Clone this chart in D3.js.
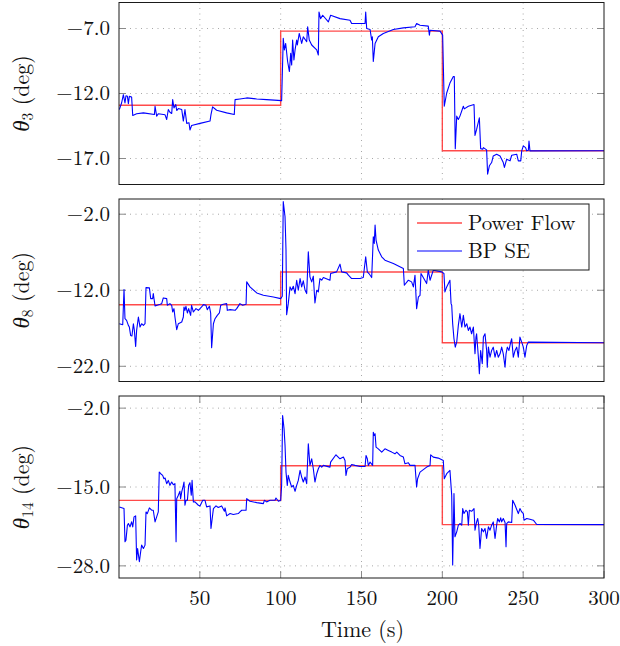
<!DOCTYPE html>
<html><head><meta charset="utf-8">
<script src="https://cdn.jsdelivr.net/npm/d3@7"></script>
<style>body{margin:0;background:#fff}svg{display:block}</style>
</head><body>
<svg id="c" width="620" height="646"></svg>
<script>
// ---------------- data ----------------
const xTicks = [50, 100, 150, 200, 250, 300];
const pfT = [0, 100, 200, 300];
const pf3 = [-12.9, -7.2, -16.4, -16.4];
const pf8 = [-13.9, -9.6, -18.9, -18.9];
const pf14 = [-17.2, -11.5, -21.2, -21.2];

const y3Ticks = [-7, -12, -17];
const y8Ticks = [-2, -12, -22];
const y14Ticks = [-2, -15, -28];

const t3 = [0.2,1.6,2.7,3.7,4.3,5.2,5.8,6.4,7.8,8.5,10.9,15.1,21.9,22.3,23.3,24.3,28.5,29.5,30.5,31.5,32.6,33.2,34.0,35.1,35.7,36.7,38.8,39.8,40.8,41.9,43.3,43.9,44.9,50.1,56.3,56.9,57.9,60.4,66.6,71.3,71.8,74.8,79.0,85.2,91.3,100.6,101.6,102.3,103.1,104.3,105.4,106.2,106.8,107.4,108.2,108.9,109.9,110.3,111.5,113.0,114.0,116.1,116.7,117.7,119.2,122.3,123.3,123.7,124.7,126.0,129.5,130.9,136.7,142.9,143.9,152.2,152.6,153.2,155.3,156.3,156.7,157.3,158.4,160.4,163.5,169.7,175.9,183.1,184.1,186.2,191.3,192.0,192.4,198.6,200.2,201.2,202.7,204.7,206.8,207.4,208.0,208.9,209.9,210.9,213.0,213.6,216.1,219.6,220.2,221.2,222.9,223.7,225.0,225.4,227.4,228.0,229.1,230.5,231.5,233.6,235.7,237.7,238.4,239.8,241.9,242.9,246.0,247.0,248.5,249.1,250.1,251.5,252.2,253.2,253.6,254.2,300];
const v3 = [-13.23,-12.73,-12.09,-12.73,-12.17,-12.22,-12.78,-12.22,-12.27,-13.69,-13.56,-13.49,-13.62,-12.98,-13.74,-13.56,-13.64,-14.0,-13.23,-13.44,-13.54,-12.47,-13.11,-12.85,-13.31,-13.16,-13.23,-14.12,-13.23,-14.30,-14.25,-14.81,-14.46,-14.30,-14.12,-13.62,-13.03,-13.29,-13.49,-13.62,-12.47,-12.42,-12.34,-12.42,-12.47,-12.55,-7.76,-8.65,-8.15,-9.54,-10.31,-8.91,-9.80,-7.89,-9.42,-8.65,-7.89,-8.27,-7.38,-8.15,-7.64,-8.02,-6.87,-7.89,-8.27,-8.65,-9.04,-5.73,-6.24,-5.98,-6.49,-5.98,-6.24,-6.36,-6.62,-6.62,-5.73,-7.0,-7.08,-7.89,-7.64,-9.54,-8.15,-7.64,-7.38,-7.08,-6.95,-6.87,-6.62,-6.75,-6.82,-7.51,-7.13,-7.20,-7.51,-12.98,-11.96,-11.20,-10.69,-10.69,-16.24,-13.74,-14.0,-13.74,-12.98,-13.18,-12.98,-12.85,-15.22,-14.76,-13.87,-16.24,-16.29,-16.16,-16.34,-18.2,-17.56,-17.31,-16.80,-16.67,-16.80,-17.31,-17.69,-17.05,-17.18,-16.75,-16.67,-17.18,-17.18,-16.41,-16.03,-16.16,-16.41,-16.36,-15.65,-16.41,-16.4];

const t8 = [0.2,2.3,3.1,3.7,4.7,5.8,6.4,7.2,8.0,8.9,9.5,10.3,10.9,12.0,13.0,14.0,15.1,16.1,16.7,18.8,19.6,20.8,21.2,22.3,25.4,26.4,27.4,29.5,29.9,31.5,32.6,33.2,34.0,34.6,35.7,36.7,38.8,39.8,40.2,40.8,41.4,42.3,43.1,44.3,44.9,46.0,47.6,49.1,51.1,52.2,53.8,54.6,55.9,56.7,57.3,58.4,59.4,60.8,62.1,62.9,64.5,66.6,67.0,68.7,71.8,72.8,74.8,76.5,78.6,79.0,81.0,85.2,89.3,95.5,100.0,101.0,101.6,102.7,103.3,103.7,104.7,105.8,106.8,107.8,108.9,109.9,110.9,112.0,113.0,114.0,115.1,116.1,117.1,118.1,119.2,120.2,121.2,122.3,123.3,124.3,125.4,126.4,130.5,130.9,134.6,136.7,137.7,140.8,141.9,143.9,149.1,151.1,152.6,153.6,154.6,156.3,157.3,157.9,158.4,159.0,160.4,162.5,164.5,169.7,175.9,176.5,179.0,181.0,182.1,183.1,184.1,185.2,186.2,186.8,190.3,191.3,192.4,194.4,199.6,201.0,201.6,202.7,204.7,205.4,205.8,206.4,207.2,208.0,208.9,209.9,210.9,212.0,213.0,214.0,215.1,216.1,217.1,218.1,219.2,220.2,220.8,221.2,222.3,222.9,223.7,224.7,225.4,226.4,227.4,227.8,228.5,229.5,230.5,231.5,232.6,233.6,234.6,235.7,236.7,237.7,238.8,239.4,240.2,241.2,242.3,242.9,243.9,245.0,246.0,247.0,248.0,249.1,250.1,251.1,252.2,253.2,300];
const v8 = [-16.40,-16.53,-11.91,-15.74,-15.96,-16.62,-16.84,-17.94,-18.02,-16.40,-17.28,-19.39,-17.28,-15.52,-16.84,-16.40,-16.62,-16.40,-11.65,-11.69,-13.10,-13.10,-12.44,-14.07,-13.85,-13.76,-13.01,-13.10,-13.98,-13.76,-13.98,-14.86,-14.42,-15.52,-17.19,-16.40,-16.18,-15.52,-14.20,-14.64,-14.11,-14.99,-14.42,-15.30,-13.98,-14.86,-14.42,-14.64,-14.20,-13.89,-13.98,-14.55,-14.11,-14.99,-19.56,-16.40,-15.74,-15.30,-14.99,-13.98,-13.85,-13.76,-14.64,-14.55,-14.64,-14.42,-13.76,-13.98,-13.85,-10.90,-11.56,-12.35,-12.66,-12.88,-13.10,-12.79,-0.35,-2.33,-6.72,-15.21,-13.76,-11.56,-12.0,-11.47,-12.44,-10.68,-12.0,-10.46,-11.56,-10.77,-12.0,-12.44,-6.94,-10.24,-10.90,-10.15,-13.67,-12.0,-12.22,-10.46,-10.68,-10.33,-10.68,-9.80,-9.58,-8.57,-9.58,-9.71,-10.02,-10.46,-10.46,-10.33,-7.60,-9.58,-9.80,-10.33,-4.96,-5.84,-3.42,-5.40,-6.72,-7.60,-8.04,-8.48,-9.14,-11.34,-10.68,-10.90,-11.56,-10.02,-14.42,-12.88,-12.66,-9.80,-11.12,-9.36,-10.68,-9.36,-9.58,-9.80,-12.22,-11.56,-10.68,-13.76,-13.98,-16.40,-18.38,-19.48,-18.82,-16.62,-15.08,-16.84,-15.30,-16.84,-16.40,-17.28,-16.84,-17.72,-16.84,-20.36,-18.16,-17.72,-20.80,-22.99,-19.92,-21.67,-18.16,-17.72,-19.92,-22.11,-19.48,-20.80,-19.92,-19.48,-20.80,-19.92,-20.80,-20.36,-19.48,-20.36,-22.11,-20.36,-19.48,-19.92,-18.82,-18.38,-20.80,-19.92,-19.48,-20.80,-18.16,-18.82,-19.48,-20.80,-19.26,-18.82,-18.9];

const t14 = [0.2,3.1,3.7,4.3,5.2,5.8,6.8,7.8,8.5,9.3,10.3,10.9,11.5,12.6,13.4,14.0,15.1,16.1,16.7,17.5,18.8,20.2,21.2,22.3,23.3,24.3,24.9,25.8,27.0,27.8,28.5,29.5,30.5,31.5,32.6,33.6,34.6,35.3,35.7,36.7,37.7,38.1,38.8,39.8,40.2,40.8,41.4,42.3,43.1,43.9,44.7,45.2,46.0,47.0,49.1,50.1,51.8,53.2,54.2,56.3,56.9,58.4,60.0,61.4,63.5,65.2,65.6,66.6,68.7,70.7,73.8,74.8,75.9,78.6,79.0,81.0,85.2,89.3,89.9,91.3,93.4,96.5,97.1,98.6,100.0,100.6,101.2,102.1,102.7,103.3,104.1,104.7,105.8,106.8,107.8,108.9,109.9,110.9,112.0,113.0,114.0,115.1,116.1,117.1,118.1,119.2,120.2,121.2,122.3,123.3,124.3,125.4,126.4,130.5,130.9,134.2,136.7,138.8,139.8,140.4,141.2,142.9,143.9,146.0,149.1,152.2,152.8,153.6,154.2,155.3,156.9,157.3,157.9,158.4,159.0,160.4,162.5,164.5,166.6,168.7,170.7,171.8,173.8,175.9,176.9,179.0,180.0,183.1,184.1,184.7,186.2,190.3,192.4,192.8,194.4,197.5,200.6,201.2,202.7,204.7,205.8,206.4,207.2,207.8,208.9,209.9,210.9,212.0,212.6,213.4,214.6,215.5,216.1,216.7,218.1,219.6,220.2,221.2,221.9,222.5,223.3,224.3,225.4,226.4,227.4,228.5,229.5,230.5,231.5,232.6,233.6,234.2,235.3,236.1,236.7,237.7,238.8,239.4,239.8,240.8,242.9,243.5,245.0,247.0,248.0,249.1,250.1,250.5,252.2,254.2,256.3,258.4,300];
const v14 = [-18.28,-18.56,-24.03,-23.76,-21.29,-21.02,-21.57,-20.75,-21.57,-19.93,-19.76,-27.04,-25.13,-27.32,-25.67,-24.58,-25.13,-24.58,-19.11,-19.38,-18.45,-18.83,-18.83,-20.75,-19.93,-19.11,-12.54,-12.81,-13.08,-13.63,-13.52,-14.45,-13.91,-14.73,-14.18,-14.62,-14.45,-24.03,-16.92,-16.37,-15.71,-16.92,-15.82,-14.73,-14.18,-18.01,-17.19,-17.19,-14.73,-14.29,-16.37,-13.91,-17.46,-17.46,-18.01,-18.12,-17.19,-17.19,-18.28,-18.12,-21.84,-18.56,-18.12,-18.39,-18.12,-19.0,-18.45,-19.76,-19.38,-19.54,-19.38,-19.11,-18.83,-18.83,-16.92,-17.35,-17.57,-17.74,-17.19,-17.46,-17.19,-17.19,-16.81,-17.35,-17.19,-14.73,-3.23,-5.42,-8.16,-12.54,-14.73,-13.08,-14.18,-15.0,-14.73,-15.71,-14.73,-13.91,-12.26,-13.36,-14.18,-13.36,-14.45,-7.88,-11.44,-10.35,-11.99,-14.18,-12.81,-11.99,-11.44,-11.72,-11.44,-11.72,-10.90,-9.69,-10.35,-10.07,-10.62,-13.08,-11.99,-11.72,-11.28,-11.44,-11.61,-11.61,-9.80,-10.35,-11.44,-10.90,-11.44,-5.97,-6.52,-6.24,-8.43,-8.71,-9.25,-8.71,-8.98,-9.25,-9.53,-9.25,-9.80,-10.07,-11.17,-11.0,-11.44,-11.44,-15.0,-13.63,-12.54,-11.72,-11.44,-9.69,-10.07,-10.24,-10.62,-13.63,-12.81,-12.26,-16.37,-27.86,-16.09,-23.21,-22.39,-21.29,-21.02,-21.29,-18.56,-19.38,-18.83,-19.11,-21.29,-18.83,-19.0,-18.56,-22.12,-20.75,-20.20,-21.29,-25.13,-21.84,-22.39,-21.84,-23.48,-21.57,-22.12,-21.29,-20.75,-23.48,-21.29,-20.20,-20.75,-20.09,-20.75,-20.20,-20.86,-24.85,-21.02,-20.75,-20.86,-17.19,-18.01,-19.38,-18.56,-19.11,-19.38,-20.47,-20.20,-20.31,-20.47,-21.18,-21.2];

// ---------------- drawing ----------------
const svg = d3.select("#c");
const FONT = '"Latin Modern Roman", "Liberation Serif", serif';
const FS = 21;
const L = 119, R = 604;
const x = d3.scaleLinear().domain([0, 300]).range([L, R]);

const panels = [
  {top: 2.5, bottom: 184.5, dom: [-19, -5], ticks: y3Ticks, pf: pf3, t: t3, v: v3, sub: "3", xt: false},
  {top: 199, bottom: 381.5, dom: [-24, 0], ticks: y8Ticks, pf: pf8, t: t8, v: v8, sub: "8", xt: false},
  {top: 396, bottom: 578, dom: [-30, 0], ticks: y14Ticks, pf: pf14, t: t14, v: v14, sub: "14", xt: true}
];

function txt(sel) {
  return sel.style("font-family", FONT).style("font-size", FS + "px").attr("fill", "#111");
}

panels.forEach((p, i) => {
  const y = d3.scaleLinear().domain(p.dom).range([p.bottom, p.top]);
  const g = svg.append("g");
  const cid = "clip" + i;
  svg.append("clipPath").attr("id", cid).append("rect")
    .attr("x", L).attr("y", p.top).attr("width", R - L).attr("height", p.bottom - p.top);

  // grid
  const grid = g.append("g").attr("stroke", "#a8a8a8").attr("stroke-width", 1).attr("stroke-dasharray", "1,4.5");
  xTicks.filter(d => d < 300).forEach(d => {
    grid.append("line").attr("x1", x(d)).attr("x2", x(d)).attr("y1", p.top).attr("y2", p.bottom);
  });
  p.ticks.forEach(d => {
    grid.append("line").attr("x1", L).attr("x2", R).attr("y1", y(d)).attr("y2", y(d));
  });

  // tick marks (inside, both sides)
  const tk = g.append("g").attr("stroke", "#8a8a8a").attr("stroke-width", 1);
  p.ticks.forEach(d => {
    tk.append("line").attr("x1", L).attr("x2", L + 7).attr("y1", y(d)).attr("y2", y(d));
    tk.append("line").attr("x1", R - 7).attr("x2", R).attr("y1", y(d)).attr("y2", y(d));
  });
  if (p.xt) {
    xTicks.forEach(d => {
      tk.append("line").attr("x1", x(d)).attr("x2", x(d)).attr("y1", p.bottom).attr("y2", p.bottom - 7);
      tk.append("line").attr("x1", x(d)).attr("x2", x(d)).attr("y1", p.top).attr("y2", p.top + 7);
    });
  }

  // power flow (step)
  const pfLine = d3.line().x((d, j) => x(pfT[j])).y(d => y(d)).curve(d3.curveStepAfter);
  g.append("path").attr("d", pfLine(p.pf)).attr("fill", "none")
    .attr("stroke", "#ff2a2a").attr("stroke-opacity", 0.85).attr("stroke-width", 1.4)
    .attr("clip-path", `url(#${cid})`);

  // BP SE
  const seLine = d3.line().x((d, j) => x(p.t[j])).y(d => y(d));
  g.append("path").attr("d", seLine(p.v)).attr("fill", "none")
    .attr("stroke", "#0000ff").attr("stroke-width", 1.1).attr("stroke-linejoin", "round")
    .attr("clip-path", `url(#${cid})`);

  // frame
  g.append("rect").attr("x", L).attr("y", p.top).attr("width", R - L).attr("height", p.bottom - p.top)
    .attr("fill", "none").attr("stroke", "#1a1a1a").attr("stroke-width", 1);

  // y tick labels
  const fmt = d3.format(".1f");
  p.ticks.forEach(d => {
    txt(g.append("text")).attr("x", L - 9).attr("y", y(d)).attr("dy", "0.33em")
      .attr("text-anchor", "end").text(fmt(d));
  });

  // y label
  const cy = (p.top + p.bottom) / 2;
  const lab = txt(g.append("text")).attr("transform", `translate(29,${cy}) rotate(-90)`)
    .attr("text-anchor", "middle").style("font-size", "22px");
  lab.append("tspan").style("font-family", '"Liberation Serif", serif').style("font-style", "italic")
    .style("font-size", "23px").text("θ");
  lab.append("tspan").style("font-size", "15.5px").attr("dy", 4).text(p.sub);
  lab.append("tspan").attr("dy", -4).text(" (deg)");
});

// x tick labels
xTicks.forEach(d => {
  txt(svg.append("text")).attr("x", x(d)).attr("y", 605).attr("text-anchor", "middle").text(d);
});
txt(svg.append("text")).attr("x", (L + R) / 2 + 1).attr("y", 637).attr("text-anchor", "middle")
  .style("font-size", "22px").text("Time (s)");

// legend
const lg = svg.append("g");
lg.append("rect").attr("x", 408).attr("y", 204).attr("width", 181).attr("height", 66)
  .attr("fill", "#fff").attr("stroke", "#1a1a1a").attr("stroke-width", 1);
const legendItems = [["Power Flow", "#ff2a2a", 1.4, 0.85], ["BP SE", "#0000ff", 1.1, 1]];
legendItems.forEach((it, i) => {
  const yy = 223 + i * 28;
  lg.append("line").attr("x1", 417).attr("x2", 462).attr("y1", yy).attr("y2", yy)
    .attr("stroke", it[1]).attr("stroke-width", it[2]).attr("stroke-opacity", it[3]);
  txt(lg.append("text")).attr("x", 468).attr("y", yy).attr("dy", "0.33em").text(it[0]);
});
</script>
</body></html>
